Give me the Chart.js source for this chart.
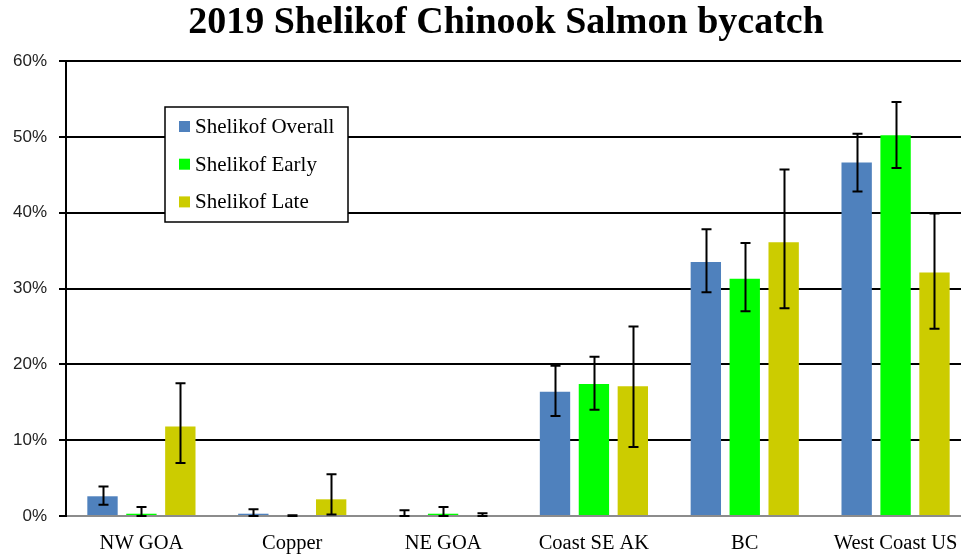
<!DOCTYPE html>
<html><head><meta charset="utf-8">
<script src="https://cdn.jsdelivr.net/npm/chart.js@4/dist/chart.umd.min.js"></script>
<style>html,body{margin:0;padding:0;background:#fff;overflow:hidden}#clip{width:961px;height:556px;overflow:hidden;position:relative}#wrap{width:971px;height:556px;position:relative}</style>
</head><body><div id="clip"><div id="wrap"><canvas id="c"></canvas></div></div>
<script>
const titleText = '2019 Shelikof Chinook Salmon bycatch';
const categories = ['NW GOA','Copper','NE GOA','Coast SE AK','BC','West Coast US'];
const seriesNames = ['Shelikof Overall','Shelikof Early','Shelikof Late'];
const overall     = [2.6, 0.3, 0,    16.4, 33.5, 46.6];
const overallLow  = [1.5, 0,   0,    13.2, 29.5, 42.8];
const overallHigh = [3.9, 0.9, 0.75, 19.8, 37.8, 50.4];
const early       = [0.3, 0,   0.3,  17.4, 31.3, 50.2];
const earlyLow    = [0,   0,   0,    14.0, 27.0, 45.9];
const earlyHigh   = [1.2, 0.1, 1.2,  21.0, 36.0, 54.6];
const late        = [11.8, 2.2, 0,    17.1, 36.1, 32.1];
const lateLow     = [7.0,  0.2, 0,    9.1,  27.4, 24.7];
const lateHigh    = [17.5, 5.5, 0.35, 25.0, 45.7, 39.9];
const yTicks = [0, 10, 20, 30, 40, 50, 60];
const colors = ['#4F81BD', '#00FF00', '#CCCC00'];

const errorBarPlugin = {
  id: 'errorBars',
  afterDatasetsDraw(chart) {
    const ctx = chart.ctx, y = chart.scales.y;
    ctx.save();
    ctx.strokeStyle = '#000';
    ctx.lineWidth = 2;
    chart.data.datasets.forEach((ds, i) => {
      const meta = chart.getDatasetMeta(i);
      meta.data.forEach((el, j) => {
        const x = Math.round(el.x) + 0.5;
        const yh = y.getPixelForValue(ds.errHigh[j]);
        const yl = y.getPixelForValue(ds.errLow[j]);
        ctx.beginPath();
        ctx.moveTo(x, yh); ctx.lineTo(x, yl);
        ctx.moveTo(x - 5, yh); ctx.lineTo(x + 5, yh);
        ctx.moveTo(x - 5, yl); ctx.lineTo(x + 5, yl);
        ctx.stroke();
      });
    });
    ctx.restore();
  }
};

const titleLegendPlugin = {
  id: 'titleLegend',
  afterDraw(chart) {
    const ctx = chart.ctx, a = chart.chartArea;
    ctx.save();
    ctx.fillStyle = '#000';
    ctx.font = 'bold 38px "Liberation Serif", "Times New Roman", serif';
    ctx.textAlign = 'center';
    ctx.textBaseline = 'alphabetic';
    ctx.fillText(titleText, 506, 33);
    const bx = a.left + 99, by = a.top + 46, bw = 183, bh = 115;
    ctx.fillStyle = '#fff';
    ctx.fillRect(bx, by, bw, bh);
    ctx.strokeStyle = '#000';
    ctx.lineWidth = 1.5;
    ctx.strokeRect(bx, by, bw, bh);
    ctx.font = '21px "Liberation Serif", "Times New Roman", serif';
    ctx.textAlign = 'left';
    ctx.textBaseline = 'middle';
    chart.data.datasets.forEach((ds, i) => {
      const cy = by + 19.5 + i * 37.7;
      ctx.fillStyle = ds.backgroundColor;
      ctx.fillRect(bx + 14, cy - 5.5, 11, 11);
      ctx.fillStyle = '#000';
      ctx.fillText(ds.label, bx + 30, cy + 1);
    });
    ctx.restore();
  }
};

new Chart(document.getElementById('c'), {
  type: 'bar',
  data: {
    labels: categories,
    datasets: [
      { label: seriesNames[0], data: overall, errLow: overallLow, errHigh: overallHigh, backgroundColor: colors[0] },
      { label: seriesNames[1], data: early, errLow: earlyLow, errHigh: earlyHigh, backgroundColor: colors[1] },
      { label: seriesNames[2], data: late, errLow: lateLow, errHigh: lateHigh, backgroundColor: colors[2] }
    ]
  },
  options: {
    responsive: true,
    maintainAspectRatio: false,
    animation: false,
    devicePixelRatio: 1,
    layout: { padding: { top: 61, left: 0, right: 0, bottom: 0 } },
    datasets: { bar: { categoryPercentage: 0.774, barPercentage: 0.78 } },
    plugins: { legend: { display: false }, tooltip: { enabled: false }, title: { display: false } },
    scales: {
      x: {
        grid: { display: false },
        border: { display: true, color: '#8c8c8c', width: 2 },
        ticks: { color: '#000', padding: 7, font: { family: '"Liberation Serif", "Times New Roman", serif', size: 20.5 }, maxRotation: 0, autoSkip: false },
        afterFit(s) { s.height = 40; s.paddingRight = 0; s.paddingLeft = 0; }
      },
      y: {
        min: 0, max: 60,
        afterBuildTicks(s) { s.ticks = yTicks.map(v => ({ value: v })); },
        grid: {
          color: c => (c.tick && c.tick.value === 0) ? '#8c8c8c' : '#000',
          lineWidth: 2, tickLength: 7, tickColor: '#000', drawTicks: true
        },
        border: { display: true, color: '#000', width: 2 },
        ticks: { color: '#222', padding: 12, callback: v => v + '%', font: { family: '"Liberation Sans", Arial, sans-serif', size: 17 } },
        afterFit(s) { s.width = 66; }
      }
    }
  },
  plugins: [errorBarPlugin, titleLegendPlugin]
});
</script></body></html>
